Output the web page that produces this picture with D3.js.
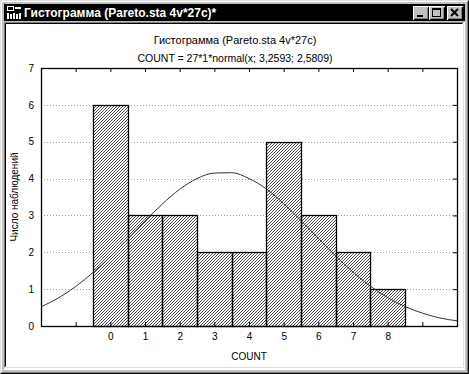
<!DOCTYPE html>
<html>
<head>
<meta charset="utf-8">
<script src="https://cdn.jsdelivr.net/npm/d3@7"></script>
<style>
  html, body { margin: 0; padding: 0; background: #c0c0c0; }
  svg { display: block; font-family: "Liberation Sans", Arial, sans-serif; }
</style>
</head>
<body>
<div id="chart"></div>
<script>
const windowTitle = "Гистограмма (Pareto.sta 4v*27c)*";
const chartTitle = "Гистограмма (Pareto.sta 4v*27c)";
const chartSubtitle = "COUNT = 27*1*normal(x; 3,2593; 2,5809)";
const xLabel = "COUNT";
const yLabel = "Число наблюдений";

// histogram: category (bin centre) and count
const bins = [0, 1, 2, 3, 4, 5, 6, 7, 8];
const counts = [6, 3, 3, 2, 2, 5, 3, 2, 1];

// fitted normal curve
const curveX = [-2, -1.5, -1, -0.5, 0, 0.5, 1, 1.5, 2, 2.5, 3, 3.5, 4, 4.5, 5, 5.5, 6, 6.5, 7, 7.5, 8, 8.5, 9, 9.5, 10];
const curveY = [0.52, 0.76, 1.07, 1.45, 1.88, 2.36, 2.85, 3.31, 3.71, 4.0, 4.15, 4.16, 4.0, 3.72, 3.32, 2.86, 2.38, 1.9, 1.46, 1.08, 0.77, 0.53, 0.35, 0.22, 0.14];

const xTicks = [-1, 0, 1, 2, 3, 4, 5, 6, 7, 8, 9];
const yTicks = [0, 1, 2, 3, 4, 5, 6, 7];

document.addEventListener("DOMContentLoaded", () => {
  const width = 469;
  const height = 374;

  const svg = d3
    .select("#chart")
    .append("svg")
    .attr("width", width)
    .attr("height", height);

  // --- window chrome ---
  svg.append("rect").attr("width", width).attr("height", height).attr("fill", "#c0c0c0");
  svg.append("path").attr("d", `M0.5,${height - 0.5} V0.5 H${width - 0.5}`).attr("fill", "none").attr("stroke", "#dfdfdf");
  svg.append("path").attr("d", `M1.5,${height - 1.5} V1.5 H${width - 1.5}`).attr("fill", "none").attr("stroke", "#fff");
  svg.append("path").attr("d", `M0.5,${height - 0.5} H${width - 0.5} V0.5`).attr("fill", "none").attr("stroke", "#000");
  svg.append("path").attr("d", `M1.5,${height - 1.5} H${width - 1.5} V1.5`).attr("fill", "none").attr("stroke", "#808080");

  svg.append("rect").attr("x", 4).attr("y", 4).attr("width", width - 8).attr("height", 17).attr("fill", "#000");

  // icon
  const icon = svg.append("g").attr("transform", "translate(7,6)").attr("shape-rendering", "crispEdges");
  icon.append("rect").attr("x", 0).attr("y", 0).attr("width", 7).attr("height", 5).attr("fill", "#fff");
  icon.append("rect").attr("x", 1).attr("y", 1).attr("width", 5).attr("height", 3).attr("fill", "#000");
  icon.append("rect").attr("x", 8).attr("y", 1).attr("width", 6).attr("height", 2).attr("fill", "#fff");
  [0, 3, 6, 9, 12].forEach((dx, i) => {
    icon.append("rect").attr("x", dx).attr("y", 7 + (i % 2)).attr("width", 2).attr("height", 6 - (i % 2)).attr("fill", "#fff");
  });

  svg.append("text")
    .attr("x", 24).attr("y", 17)
    .attr("fill", "#fff")
    .attr("font-weight", "bold")
    .attr("font-size", 12)
    .text(windowTitle);

  // title buttons
  const btnX = [413, 429, 447];
  btnX.forEach((bx, i) => {
    const g = svg.append("g").attr("transform", `translate(${bx},6)`).attr("shape-rendering", "crispEdges");
    g.append("rect").attr("width", 16).attr("height", 14).attr("fill", "#c0c0c0");
    g.append("path").attr("d", "M0.5,13.5 V0.5 H15.5").attr("fill", "none").attr("stroke", "#fff");
    g.append("path").attr("d", "M0.5,13.5 H15.5 V0.5").attr("fill", "none").attr("stroke", "#000");
    g.append("path").attr("d", "M1.5,12.5 H14.5 V1.5").attr("fill", "none").attr("stroke", "#808080");
    if (i === 0) g.append("rect").attr("x", 4).attr("y", 9).attr("width", 6).attr("height", 2).attr("fill", "#000");
    if (i === 1) {
      g.append("rect").attr("x", 3.5).attr("y", 2.5).attr("width", 8).attr("height", 8).attr("fill", "none").attr("stroke", "#000");
      g.append("rect").attr("x", 3).attr("y", 2).attr("width", 9).attr("height", 2).attr("fill", "#000");
    }
    if (i === 2) {
      g.append("path").attr("d", "M4,3 L11,10 M11,3 L4,10").attr("stroke", "#000").attr("stroke-width", 2).attr("shape-rendering", "auto");
    }
  });

  // client area (sunken)
  svg.append("rect").attr("x", 4).attr("y", 22).attr("width", width - 8).attr("height", height - 26).attr("fill", "#fff");
  svg.append("path").attr("d", `M4.5,${height - 6.5} V22.5 H${width - 5.5}`).attr("fill", "none").attr("stroke", "#808080");
  svg.append("path").attr("d", `M5.5,${height - 7.5} V23.5 H${width - 6.5}`).attr("fill", "none").attr("stroke", "#000");
  svg.append("path").attr("d", `M4.5,${height - 5.5} H${width - 4.5} V22.5`).attr("fill", "none").attr("stroke", "#fff");
  svg.append("path").attr("d", `M5.5,${height - 6.5} H${width - 5.5} V23.5`).attr("fill", "none").attr("stroke", "#dfdfdf");

  // --- chart ---
  const x = d3.scaleLinear().domain([-2, 10]).range([41, 457]);
  const y = d3.scaleLinear().domain([0, 7]).range([326, 68]);

  const barX = (d) => Math.round(x(d - 0.5));
  const barW = (d) => Math.round(x(d + 0.5)) - Math.round(x(d - 0.5));
  const barY = (i) => Math.round(y(counts[i]));
  const barH = (i) => Math.round(y(0)) - Math.round(y(counts[i]));

  svg.append("text")
    .attr("x", 235).attr("y", 44)
    .attr("text-anchor", "middle")
    .attr("font-size", 11)
    .text(chartTitle);
  svg.append("text")
    .attr("x", 235).attr("y", 62)
    .attr("text-anchor", "middle")
    .attr("font-size", 10.5)
    .text(chartSubtitle);

  // grid
  svg.append("g")
    .selectAll("line")
    .data(yTicks.filter((d) => d > 0 && d < 7))
    .join("line")
    .attr("x1", x(-2)).attr("x2", x(10))
    .attr("y1", (d) => Math.round(y(d)) + 0.5)
    .attr("y2", (d) => Math.round(y(d)) + 0.5)
    .attr("stroke", "#a0a0a0")
    .attr("stroke-dasharray", "1,2");

  // bar fill + "/" hatching clipped to the bars
  const clip = svg.append("defs").append("clipPath").attr("id", "barclip");
  clip.selectAll("rect")
    .data(bins)
    .join("rect")
    .attr("x", barX)
    .attr("y", (d, i) => barY(i))
    .attr("width", barW)
    .attr("height", (d, i) => barH(i));

  svg.append("g")
    .selectAll("rect")
    .data(bins)
    .join("rect")
    .attr("x", barX)
    .attr("y", (d, i) => barY(i))
    .attr("width", barW)
    .attr("height", (d, i) => barH(i))
    .attr("fill", "#fff");

  const y0 = Math.round(y(0));
  const y7 = Math.round(y(7));
  const span = y0 - y7;
  svg.append("g")
    .attr("clip-path", "url(#barclip)")
    .selectAll("line")
    .data(d3.range(Math.round(x(-2)) - span, Math.round(x(10)) + 3, 3))
    .join("line")
    .attr("x1", (a) => a)
    .attr("y1", y0)
    .attr("x2", (a) => a + span)
    .attr("y2", y7)
    .attr("stroke", "#000")
    .attr("stroke-width", 0.7);

  svg.append("g")
    .selectAll("rect")
    .data(bins)
    .join("rect")
    .attr("x", (d) => barX(d) + 0.5)
    .attr("y", (d, i) => barY(i) + 0.5)
    .attr("width", barW)
    .attr("height", (d, i) => barH(i))
    .attr("fill", "none")
    .attr("stroke", "#000")
    .attr("stroke-width", 1.3);

  // normal curve
  const line = d3.line()
    .x((d, i) => x(curveX[i]))
    .y((d) => y(d))
    .curve(d3.curveMonotoneX);
  svg.append("path")
    .datum(curveY)
    .attr("d", line)
    .attr("fill", "none")
    .attr("stroke", "#333")
    .attr("stroke-width", 1);

  // axes
  const axisFont = (g) => g.attr("font-size", 10).attr("font-family", "Liberation Sans, Arial, sans-serif");

  svg.append("g")
    .attr("transform", `translate(0,${y(0)})`)
    .call(d3.axisBottom(x).tickValues(xTicks).tickSizeInner(-4).tickSizeOuter(0).tickPadding(7)
      .tickFormat((d) => (d >= 0 && d <= 8 ? d : "")))
    .call(axisFont)
    .call((g) => g.select(".domain").remove());

  svg.append("g")
    .attr("transform", `translate(0,${y(7)})`)
    .call(d3.axisTop(x).tickValues(xTicks).tickSizeInner(-4).tickSizeOuter(0).tickFormat(""))
    .call((g) => g.select(".domain").remove());

  svg.append("g")
    .attr("transform", `translate(${x(-2)},0)`)
    .call(d3.axisLeft(y).tickValues(yTicks).tickSizeInner(0).tickSizeOuter(0).tickPadding(7)
      .tickFormat(d3.format("d")))
    .call(axisFont)
    .call((g) => g.select(".domain").remove());

  svg.append("g")
    .attr("transform", `translate(${x(10)},0)`)
    .call(d3.axisRight(y).tickValues(yTicks).tickSizeInner(-4).tickSizeOuter(0).tickFormat(""))
    .call((g) => g.select(".domain").remove());

  // frame
  svg.append("rect")
    .attr("x", Math.round(x(-2)) + 0.5)
    .attr("y", y7 + 0.5)
    .attr("width", Math.round(x(10)) - Math.round(x(-2)))
    .attr("height", span)
    .attr("fill", "none")
    .attr("stroke", "#000")
    .attr("stroke-width", 1.3);

  svg.append("text")
    .attr("x", 249).attr("y", 360)
    .attr("text-anchor", "middle")
    .attr("font-size", 10)
    .text(xLabel);

  svg.append("text")
    .attr("transform", `translate(18,197) rotate(-90)`)
    .attr("text-anchor", "middle")
    .attr("font-size", 10)
    .text(yLabel);
});
</script>
</body>
</html>
